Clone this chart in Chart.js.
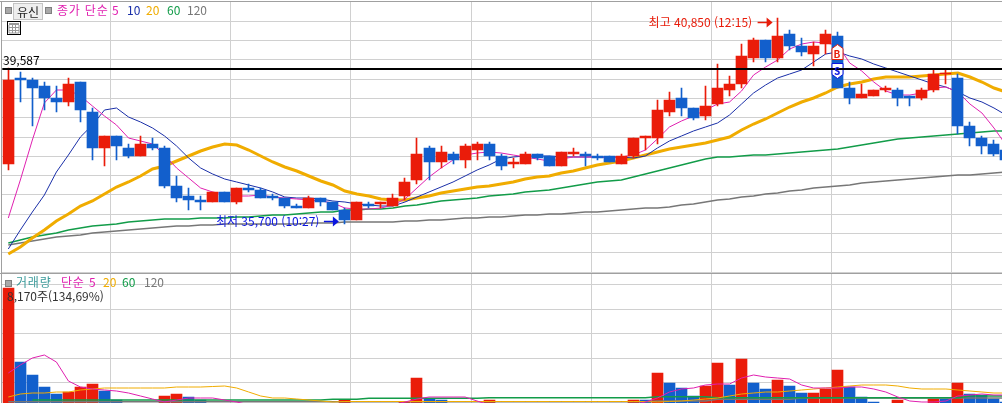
<!DOCTYPE html>
<html lang="ko">
<head>
<meta charset="utf-8">
<title>유신 3분봉</title>
<script src="https://cdn.jsdelivr.net/npm/chart.js@4"></script>
<style>
  html, body { margin: 0; padding: 0; width: 1002px; height: 403px; overflow: hidden; background: #fff; }
  canvas { position: absolute; left: 0; display: block; }
  #priceCanvas { top: 0; }
  #volumeCanvas { top: 273px; }
  .frame { position: absolute; background: #a0a0a0; }
  .txt { position: absolute; font: 12px/14px "Noto Sans CJK KR", sans-serif; white-space: nowrap; }
  .wide { letter-spacing: 0.8px; }
  .box { position: absolute; width: 5px; height: 5px; background: #a8a8a8; border: 1px solid #808080; }
  #stockBtn { left: 13px; top: 3px; width: 28px; height: 15px; line-height: 15px; text-align: center; background: #eee; border: 1px solid #c4c4c4; color: #222; }
  #calendar { position: absolute; left: 7px; top: 21px; }
  .mark { font-size: 10px; font-weight: bold; text-align: center; width: 12px; line-height: 12px; }
</style>
</head>
<body>
<canvas id="priceCanvas" width="1012" height="273"></canvas>
<canvas id="volumeCanvas" width="1012" height="130"></canvas>

<div class="frame" style="left:0;top:1px;width:1002px;height:1px"></div>
<div class="frame" style="left:1px;top:1px;width:1px;height:402px"></div>
<div class="frame" style="left:0;top:273px;width:1002px;height:1px"></div>

<div class="box" style="left:5px;top:7px"></div>
<div class="txt" id="stockBtn">유신</div>
<div class="box" style="left:45px;top:7px"></div>
<span class="txt wide" style="left:57px;top:3px;color:#e020b0">종가 단순</span>
<span class="txt" style="left:112px;top:3px;color:#e020b0">5</span>
<span class="txt" style="left:127px;top:3px;color:#1a2fa8">10</span>
<span class="txt" style="left:146px;top:3px;color:#f0ac00">20</span>
<span class="txt" style="left:167px;top:3px;color:#129c49">60</span>
<span class="txt" style="left:187px;top:3px;color:#777">120</span>

<svg id="calendar" width="14" height="14" viewBox="0 0 14 14">
  <rect x="0.5" y="0.5" width="13" height="13" fill="#fff" stroke="#000"/>
  <rect x="2" y="2" width="10" height="2" fill="#999"/>
  <path d="M2 6.5H12M2 9.5H12M5.5 4V12M8.5 4V12M2 4V12M12 4V12M2 12H12" stroke="#999" fill="none"/>
</svg>

<span class="txt" style="left:3px;top:53px;color:#000">39,587</span>
<span class="txt" id="highLabel" style="color:#e81c0a"></span>
<span class="txt" id="lowLabel" style="color:#0a14e0"></span>
<span class="txt mark" id="buyMark" style="color:#e81c0a">B</span>
<span class="txt mark" id="sellMark" style="color:#0a14e0">S</span>

<div class="box" style="left:5px;top:280px"></div>
<span class="txt wide" style="left:16px;top:275px;color:#3a9a9a">거래량</span>
<span class="txt wide" style="left:61px;top:275px;color:#e020b0">단순</span>
<span class="txt" style="left:89px;top:275px;color:#e020b0">5</span>
<span class="txt" style="left:103px;top:275px;color:#f0ac00">20</span>
<span class="txt" style="left:122px;top:275px;color:#129c49">60</span>
<span class="txt" style="left:144px;top:275px;color:#777">120</span>
<span class="txt" style="left:7px;top:289px;color:#333">8,170주(134,69%)</span>

<script>
// 3-minute candles from 09:03
const categories = [];
for (let m = 543; categories.length < 84; m += 3) {
  categories.push(Math.floor(m / 60) + ':' + String(m % 60).padStart(2, '0'));
}

const opens = [
  37200, 39350, 39300, 39150, 38850, 38750, 39250, 38500, 37600, 37900,
  37600, 37400, 37700, 37600, 36650, 36400, 36300, 36250, 36500, 36250,
  36600, 36550, 36400, 36350, 36150, 36100, 36350, 36250, 36050, 35800,
  36200, 36200, 36150, 36400, 36800, 37600, 37250, 37450, 37300, 37550,
  37700, 37400, 37200, 37200, 37450, 37400, 37150, 37450, 37450, 37400,
  37400, 37200, 37400, 37850, 37850, 38500, 38850, 38600, 38400, 38700,
  39050, 39200, 39850, 40300, 39850, 40450, 40150, 39950, 40200, 40400,
  39100, 38850, 38900, 39050, 39050, 38900, 38850, 39050, 39450, 39350,
  38150, 37850, 37700, 37550
];
const closes = [
  39300, 39300, 39100, 38850, 38750, 39200, 38550, 37600, 37900, 37650,
  37400, 37700, 37600, 36650, 36350, 36300, 36250, 36500, 36250, 36600,
  36550, 36350, 36350, 36150, 36100, 36350, 36250, 36050, 35800, 36250,
  36150, 36250, 36350, 36750, 37450, 37250, 37500, 37300, 37650, 37700,
  37400, 37150, 37250, 37450, 37350, 37150, 37500, 37500, 37400, 37350,
  37250, 37400, 37850, 37900, 38550, 38800, 38600, 38350, 38650, 39100,
  39200, 39900, 40300, 39850, 40400, 40150, 40000, 40150, 40450, 39100,
  38850, 38950, 39050, 39100, 38850, 38850, 39050, 39450, 39475, 38150,
  37850, 37650, 37450, 37300
];
const highs = [
  39600, 39500, 39350, 39250, 39150, 39350, 39250, 38600, 37900, 37900,
  37700, 37900, 37850, 37650, 36900, 36600, 36400, 36500, 36500, 36600,
  36700, 36600, 36450, 36350, 36200, 36400, 36350, 36250, 36100, 36250,
  36250, 36250, 36450, 36850, 37850, 37650, 37650, 37500, 37700, 37750,
  37750, 37450, 37350, 37500, 37450, 37400, 37500, 37600, 37500, 37450,
  37400, 37450, 37850, 37900, 38800, 39000, 39100, 38600, 39150, 39700,
  39400, 40200, 40350, 40300, 40850, 40550, 40350, 40250, 40550, 40500,
  39250, 39200, 39050, 39150, 39100, 38900, 39100, 39550, 39550, 39450,
  38250, 37900, 37800, 37550
];
const lows = [
  37050, 38750, 38150, 38550, 38500, 38650, 38250, 37300, 37150, 37300,
  37350, 37400, 37550, 36600, 36250, 36050, 36050, 36250, 36250, 36200,
  36500, 36350, 36300, 36100, 36100, 36100, 36150, 36050, 35700, 35800,
  36100, 36100, 36150, 36300, 36700, 36800, 37100, 37200, 37100, 37300,
  37300, 37050, 37100, 37200, 37300, 37150, 37150, 37400, 37150, 37300,
  37250, 37200, 37350, 37550, 37700, 38400, 38400, 38300, 38300, 38650,
  38900, 39100, 39750, 39750, 39750, 40050, 39900, 39650, 39950, 39100,
  38700, 38850, 38900, 39000, 38650, 38650, 38800, 39000, 39200, 37950,
  37650, 37450, 37400, 37300
];

const ma5 = [
  35850, 36800, 37800, 38725, 39050, 39050, 38900, 38650, 38400, 38175,
  37850, 37775, 37700, 37425, 37100, 36850, 36600, 36500, 36450, 36400,
  36400, 36425, 36375, 36350, 36325, 36300, 36275, 36225, 36100, 36075,
  36075, 36100, 36175, 36325, 36600, 36875, 37100, 37300, 37425, 37475,
  37500, 37475, 37425, 37375, 37325, 37275, 37325, 37375, 37375, 37375,
  37350, 37375, 37425, 37550, 37825, 38125, 38275, 38400, 38550, 38700,
  38750, 39025, 39425, 39625, 39800, 40075, 40200, 40250, 40225, 40175,
  39725, 39525, 39250, 39025, 38925, 38925, 38975, 39100, 39125, 39000,
  38700, 38475, 38100, 37675
];
const ma10 = [
  35075, 35550, 36000, 36425, 37000, 37425, 37875, 38175, 38550, 38600,
  38375, 38250, 38100, 37900, 37650, 37350, 37100, 36950, 36825, 36750,
  36675, 36600, 36500, 36375, 36350, 36350, 36325, 36275, 36250, 36200,
  36175, 36150, 36150, 36250, 36375, 36500, 36625, 36750, 36900, 37050,
  37175, 37325, 37375, 37400, 37400, 37400, 37375, 37375, 37375, 37375,
  37375, 37375, 37350, 37400, 37600, 37775, 37900, 38025, 38125, 38225,
  38425, 38700, 38975, 39175, 39350, 39450, 39550, 39750, 39950, 40000,
  39900, 39825, 39700, 39600, 39500, 39400, 39300, 39200, 39125, 39000,
  38850, 38750, 38600, 38425
];
const ma20 = [
  34950, 35125, 35350, 35550, 35775, 35950, 36150, 36275, 36450, 36625,
  36750, 36900, 37075, 37150, 37275, 37400, 37525, 37625, 37700, 37675,
  37550, 37400, 37250, 37125, 37025, 36900, 36775, 36675, 36525, 36450,
  36400, 36325, 36300, 36300, 36350, 36400, 36475, 36525, 36575, 36625,
  36650, 36700, 36750, 36825, 36875, 36900, 36975, 37025, 37100, 37175,
  37225, 37275, 37350, 37425, 37500, 37575, 37625, 37675, 37725, 37800,
  37875, 38050, 38200, 38325, 38475, 38625, 38750, 38850, 38975, 39125,
  39200, 39250, 39325, 39375, 39375, 39375, 39400, 39425, 39450, 39475,
  39375, 39250, 39100, 39000
];
const ma60 = [
  35225, 35300, 35375, 35425, 35475, 35550, 35600, 35650, 35675, 35700,
  35750, 35775, 35800, 35825, 35825, 35825, 35850, 35850, 35850, 35875,
  35875, 35900, 35925, 35925, 35950, 35975, 36000, 36000, 36050, 36050,
  36075, 36075, 36100, 36150, 36175, 36225, 36275, 36300, 36325, 36350,
  36400, 36425, 36450, 36500, 36525, 36550, 36600, 36650, 36700, 36750,
  36775, 36800, 36875, 36950, 37025, 37100, 37175, 37250, 37325, 37375,
  37375, 37400, 37425, 37425, 37450, 37475, 37500, 37525, 37550, 37575,
  37625, 37675, 37725, 37775, 37825, 37850, 37875, 37900, 37925, 37950,
  37975, 38000, 38025, 38025
];
const ma120 = [
  35175, 35225, 35275, 35325, 35375, 35400, 35425, 35475, 35500, 35525,
  35550, 35575, 35600, 35625, 35650, 35650, 35675, 35675, 35700, 35700,
  35700, 35700, 35700, 35700, 35700, 35725, 35725, 35725, 35750, 35750,
  35750, 35750, 35750, 35775, 35775, 35800, 35800, 35825, 35850, 35850,
  35875, 35875, 35900, 35925, 35925, 35950, 35950, 35975, 36000, 36000,
  36025, 36050, 36075, 36100, 36100, 36125, 36175, 36200, 36250, 36300,
  36325, 36375, 36400, 36450, 36475, 36525, 36550, 36600, 36625, 36650,
  36675, 36725, 36750, 36775, 36800, 36825, 36850, 36875, 36900, 36925,
  36925, 36950, 36975, 37000
];

const volumes = [
  8170, 5210, 4690, 4210, 3930, 4010, 4210, 4330, 4050, 3690,
  3400, 3400, 3400, 3850, 3930, 3810, 3690, 3400, 3400, 3400,
  3400, 3400, 3400, 3400, 3400, 3400, 3400, 3400, 3690, 3400,
  3400, 3400, 3400, 3620, 4570, 3730, 3690, 3400, 3400, 3400,
  3690, 3400, 3400, 3400, 3400, 3400, 3400, 3400, 3400, 3400,
  3400, 3400, 3690, 3680, 4770, 4370, 4170, 3850, 4250, 5170,
  4290, 5330, 4370, 4130, 4490, 4250, 3970, 3990, 4130, 4890,
  4210, 3810, 3610, 3400, 3690, 3400, 3400, 3730, 3720, 4370,
  3930, 3890, 3730, 3600
];
const volMa5 = [
  4770, 5090, 5370, 5490, 5210, 4450, 4210, 4130, 4090, 4050,
  3970, 3850, 3730, 3610, 3690, 3770, 3770, 3770, 3690, 3610,
  3500, 3500, 3500, 3500, 3500, 3500, 3500, 3500, 3500, 3500,
  3500, 3500, 3500, 3610, 3730, 3810, 3810, 3810, 3810, 3650,
  3500, 3500, 3500, 3500, 3500, 3500, 3500, 3500, 3500, 3500,
  3500, 3500, 3500, 3610, 3770, 4010, 4130, 4170, 4290, 4330,
  4330, 4570, 4690, 4610, 4570, 4530, 4290, 4170, 4170, 4170,
  4210, 4210, 4130, 4010, 3810, 3650, 3610, 3610, 3650, 3850,
  3890, 3930, 3890, 3890
];
const volMa20 = [
  3810, 3930, 3970, 3970, 4010, 4010, 4090, 4130, 4170, 4170,
  4170, 4170, 4170, 4170, 4210, 4210, 4210, 4230, 4250, 4170,
  4010, 3850, 3770, 3770, 3730, 3690, 3650, 3610, 3630, 3630,
  3630, 3630, 3630, 3630, 3630, 3630, 3630, 3630, 3630, 3630,
  3630, 3630, 3630, 3630, 3630, 3630, 3630, 3630, 3630, 3630,
  3630, 3630, 3630, 3630, 3610, 3630, 3650, 3690, 3730, 3770,
  3850, 3930, 3970, 4010, 4010, 4050, 4090, 4130, 4170, 4210,
  4250, 4290, 4290, 4290, 4250, 4170, 4130, 4130, 4130, 4090,
  4050, 4010, 3970, 3970
];
const volMa60 = [
  null, null, 3690, 3690, 3690, 3690, 3690, 3690, 3690, 3690,
  3690, 3690, 3690, 3690, 3690, 3690, 3690, 3690, 3690, 3690,
  3690, 3690, 3690, 3690, 3690, 3690, 3690, 3720, 3720, 3720,
  3760, 3760, 3760, 3760, 3760, 3760, 3760, 3760, 3760, 3760,
  3780, 3780, 3780, 3780, 3780, 3780, 3780, 3780, 3780, 3780,
  3780, 3780, 3780, 3780, 3820, 3820, 3820, 3820, 3820, 3780,
  3780, 3780, 3780, 3780, 3780, 3780, 3780, 3780, 3780, 3780,
  3780, 3780, 3780, 3780, 3780, 3780, 3780, 3780, 3780, 3780,
  3850, 3850, 3850, 3850
];
const volMa120 = [
  3620, 3620, 3620, 3620, 3620, 3620, 3620, 3620, 3620, 3620,
  3620, 3620, 3620, 3620, 3620, 3620, 3620, 3620, 3620, 3620,
  3620, 3620, 3620, 3620, 3620, 3620, 3620, 3620, 3620, 3620,
  3620, 3620, 3620, 3620, 3620, 3620, 3620, 3620, 3620, 3620,
  3620, 3620, 3620, 3620, 3620, 3620, 3620, 3620, 3620, 3620,
  3620, 3620, 3620, 3620, 3650, 3650, 3650, 3650, 3650, 3720,
  3720, 3720, 3720, 3720, 3720, 3720, 3770, 3770, 3770, 3770,
  3770, 3770, 3770, 3770, 3770, 3770, 3770, 3770, 3770, 3770,
  3770, 3770, 3770, 3770
];
const volumeGridTicks = [4400, 5350, 6350, 7300, 8300];

const BASE_PRICE = 39587;
const BUY_PRICE = 40200;
const SELL_PRICE = 39350;
const SIGNAL_INDEX = 69;

const RED = '#ea1c0a';
const BLUE = '#125fcc';
const GRID = '#d0d0d0';

const upDown = opens.map((o, i) => (closes[i] >= o ? RED : BLUE));
const volColors = volumes.map((v, i) => (i === 0 || v >= volumes[i - 1] ? RED : BLUE));

const lineSet = (data, color, width, order) => ({
  type: 'line', data, borderColor: color, borderWidth: width,
  pointRadius: 0, tension: 0, fill: false, order, spanGaps: false
});

// Keep bars on whole pixels so bodies and wicks stay crisp
const snapBars = {
  id: 'snapBars',
  afterDatasetsUpdate(chart) {
    chart.getSortedVisibleDatasetMetas().forEach(meta => {
      if (meta.type !== 'bar') return;
      meta.data.forEach(el => {
        el.x = Math.floor(el.x) + 0.5;
        el.y = Math.round(el.y);
        el.base = Math.round(el.base);
        if (Math.abs(el.y - el.base) < 1) el.base = el.y + 1;
      });
    });
  }
};

const arrow = (ctx, tipX, y, color) => {
  ctx.strokeStyle = color;
  ctx.fillStyle = color;
  ctx.lineWidth = 1.5;
  ctx.beginPath();
  ctx.moveTo(tipX - 15, y + 0.5);
  ctx.lineTo(tipX - 4, y + 0.5);
  ctx.stroke();
  ctx.beginPath();
  ctx.moveTo(tipX, y + 0.5);
  ctx.lineTo(tipX - 6, y - 4.5);
  ctx.lineTo(tipX - 6, y + 5.5);
  ctx.closePath();
  ctx.fill();
};

const signalShape = (ctx, cx, tipY, dir, color) => {
  ctx.fillStyle = '#fff';
  ctx.strokeStyle = color;
  ctx.lineWidth = 1;
  ctx.beginPath();
  ctx.moveTo(cx, tipY);
  ctx.lineTo(cx + 5.5, tipY + dir * 4);
  ctx.lineTo(cx + 5.5, tipY + dir * 15);
  ctx.lineTo(cx - 5.5, tipY + dir * 15);
  ctx.lineTo(cx - 5.5, tipY + dir * 4);
  ctx.closePath();
  ctx.fill();
  ctx.stroke();
};

// High/low arrows, B/S signal boxes, then the base price line across them
const priceOverlay = {
  id: 'priceOverlay',
  afterDatasetsDraw(chart) {
    const { ctx, chartArea, scales } = chart;
    const y = scales.y, x = scales.x;
    ctx.save();
    const hiIdx = highs.indexOf(Math.max(...highs));
    const loIdx = lows.indexOf(Math.min(...lows));
    arrow(ctx, x.getPixelForValue(hiIdx) - 5, y.getPixelForValue(highs[hiIdx]) + 4, '#e81c0a');
    arrow(ctx, x.getPixelForValue(loIdx) - 6, y.getPixelForValue(lows[loIdx]) - 3, '#0a14e0');

    const sx = Math.floor(x.getPixelForValue(SIGNAL_INDEX)) + 0.5;
    signalShape(ctx, sx, Math.round(y.getPixelForValue(BUY_PRICE)) + 0.5, 1, '#e81c0a');
    signalShape(ctx, sx, Math.round(y.getPixelForValue(SELL_PRICE)) + 0.5, -1, '#0a14e0');

    const baseY = Math.round(y.getPixelForValue(BASE_PRICE));
    ctx.strokeStyle = '#000';
    ctx.lineWidth = 2;
    ctx.beginPath();
    ctx.moveTo(chartArea.left, baseY);
    ctx.lineTo(1002, baseY);
    ctx.stroke();
    ctx.restore();
  }
};

const xAxis = {
  offset: true,
  afterFit(s) { s.height = 0; },
  border: { display: false },
  ticks: { display: false, autoSkip: false },
  grid: {
    offset: true,
    drawTicks: false,
    color: ctx => (ctx.index % 10 === 9 ? GRID : 'transparent')
  }
};

const yAxis = (min, max, extra) => Object.assign({
  min, max,
  afterFit(s) { s.width = 0; },
  border: { display: false },
  ticks: { display: false },
  grid: { color: GRID, drawTicks: false }
}, extra);

const baseOptions = {
  responsive: false,
  animation: false,
  events: [],
  plugins: { legend: { display: false }, tooltip: { enabled: false } }
};

const priceChart = new Chart(document.getElementById('priceCanvas'), {
  type: 'bar',
  plugins: [snapBars, priceOverlay],
  data: {
    labels: categories,
    datasets: [
      lineSet(ma120, '#777777', 1.5, 10),
      lineSet(ma60, '#129c49', 1.5, 9),
      lineSet(ma20, '#f0ac00', 3, 8),
      lineSet(ma10, '#1a2fa8', 1, 7),
      lineSet(ma5, '#e020b0', 1, 6),
      {
        data: highs.map((h, i) => [lows[i], h]),
        backgroundColor: upDown, barThickness: 1, grouped: false, order: 2
      },
      {
        data: opens.map((o, i) => [o, closes[i]]),
        backgroundColor: upDown, barThickness: 11, grouped: false, order: 1
      }
    ]
  },
  options: Object.assign({}, baseOptions, {
    layout: { padding: { left: 2.3, right: 0, top: 2, bottom: 1 } },
    scales: {
      x: xAxis,
      y: yAxis(34500, 41250, {
        afterBuildTicks(s) { s.ticks = s.ticks.filter(t => t.value <= 41000); },
        ticks: { display: false, stepSize: 500 }
      })
    }
  })
});

const volumeChart = new Chart(document.getElementById('volumeCanvas'), {
  type: 'bar',
  plugins: [snapBars],
  data: {
    labels: categories,
    datasets: [
      {
        data: volumes, backgroundColor: volColors,
        barThickness: 11, grouped: false, order: 10
      },
      lineSet(volMa120, '#777777', 1.5, 4),
      lineSet(volMa60, '#129c49', 1.5, 3),
      lineSet(volMa20, '#f0ac00', 1, 2),
      lineSet(volMa5, '#e020b0', 1, 1)
    ]
  },
  options: Object.assign({}, baseOptions, {
    layout: { padding: { left: 2.3, right: 0, top: 0, bottom: 0 } },
    scales: {
      x: xAxis,
      y: yAxis(3570, 8770, {
        afterBuildTicks(s) { s.ticks = volumeGridTicks.map(value => ({ value })); }
      })
    }
  })
});

// Text labels that follow the price scale
const place = (id, left, top, text) => {
  const el = document.getElementById(id);
  if (text) el.textContent = text;
  el.style.left = left + 'px';
  el.style.top = top + 'px';
};
const px = priceChart.scales.x, py = priceChart.scales.y;
const hiIdx = highs.indexOf(Math.max(...highs));
const loIdx = lows.indexOf(Math.min(...lows));
const fmt = v => v.toLocaleString('en-US');
place('highLabel', px.getPixelForValue(hiIdx) - 129, py.getPixelForValue(highs[hiIdx]) - 3,
  '최고 ' + fmt(highs[hiIdx]) + ' (' + categories[hiIdx] + ')');
place('lowLabel', px.getPixelForValue(loIdx) - 129, py.getPixelForValue(lows[loIdx]) - 10,
  '최저 ' + fmt(lows[loIdx]) + ' (' + categories[loIdx] + ')');
const sx = Math.floor(px.getPixelForValue(SIGNAL_INDEX)) - 6;
place('buyMark', sx, py.getPixelForValue(BUY_PRICE) + 4);
place('sellMark', sx, py.getPixelForValue(SELL_PRICE) - 13);
</script>
</body>
</html>
